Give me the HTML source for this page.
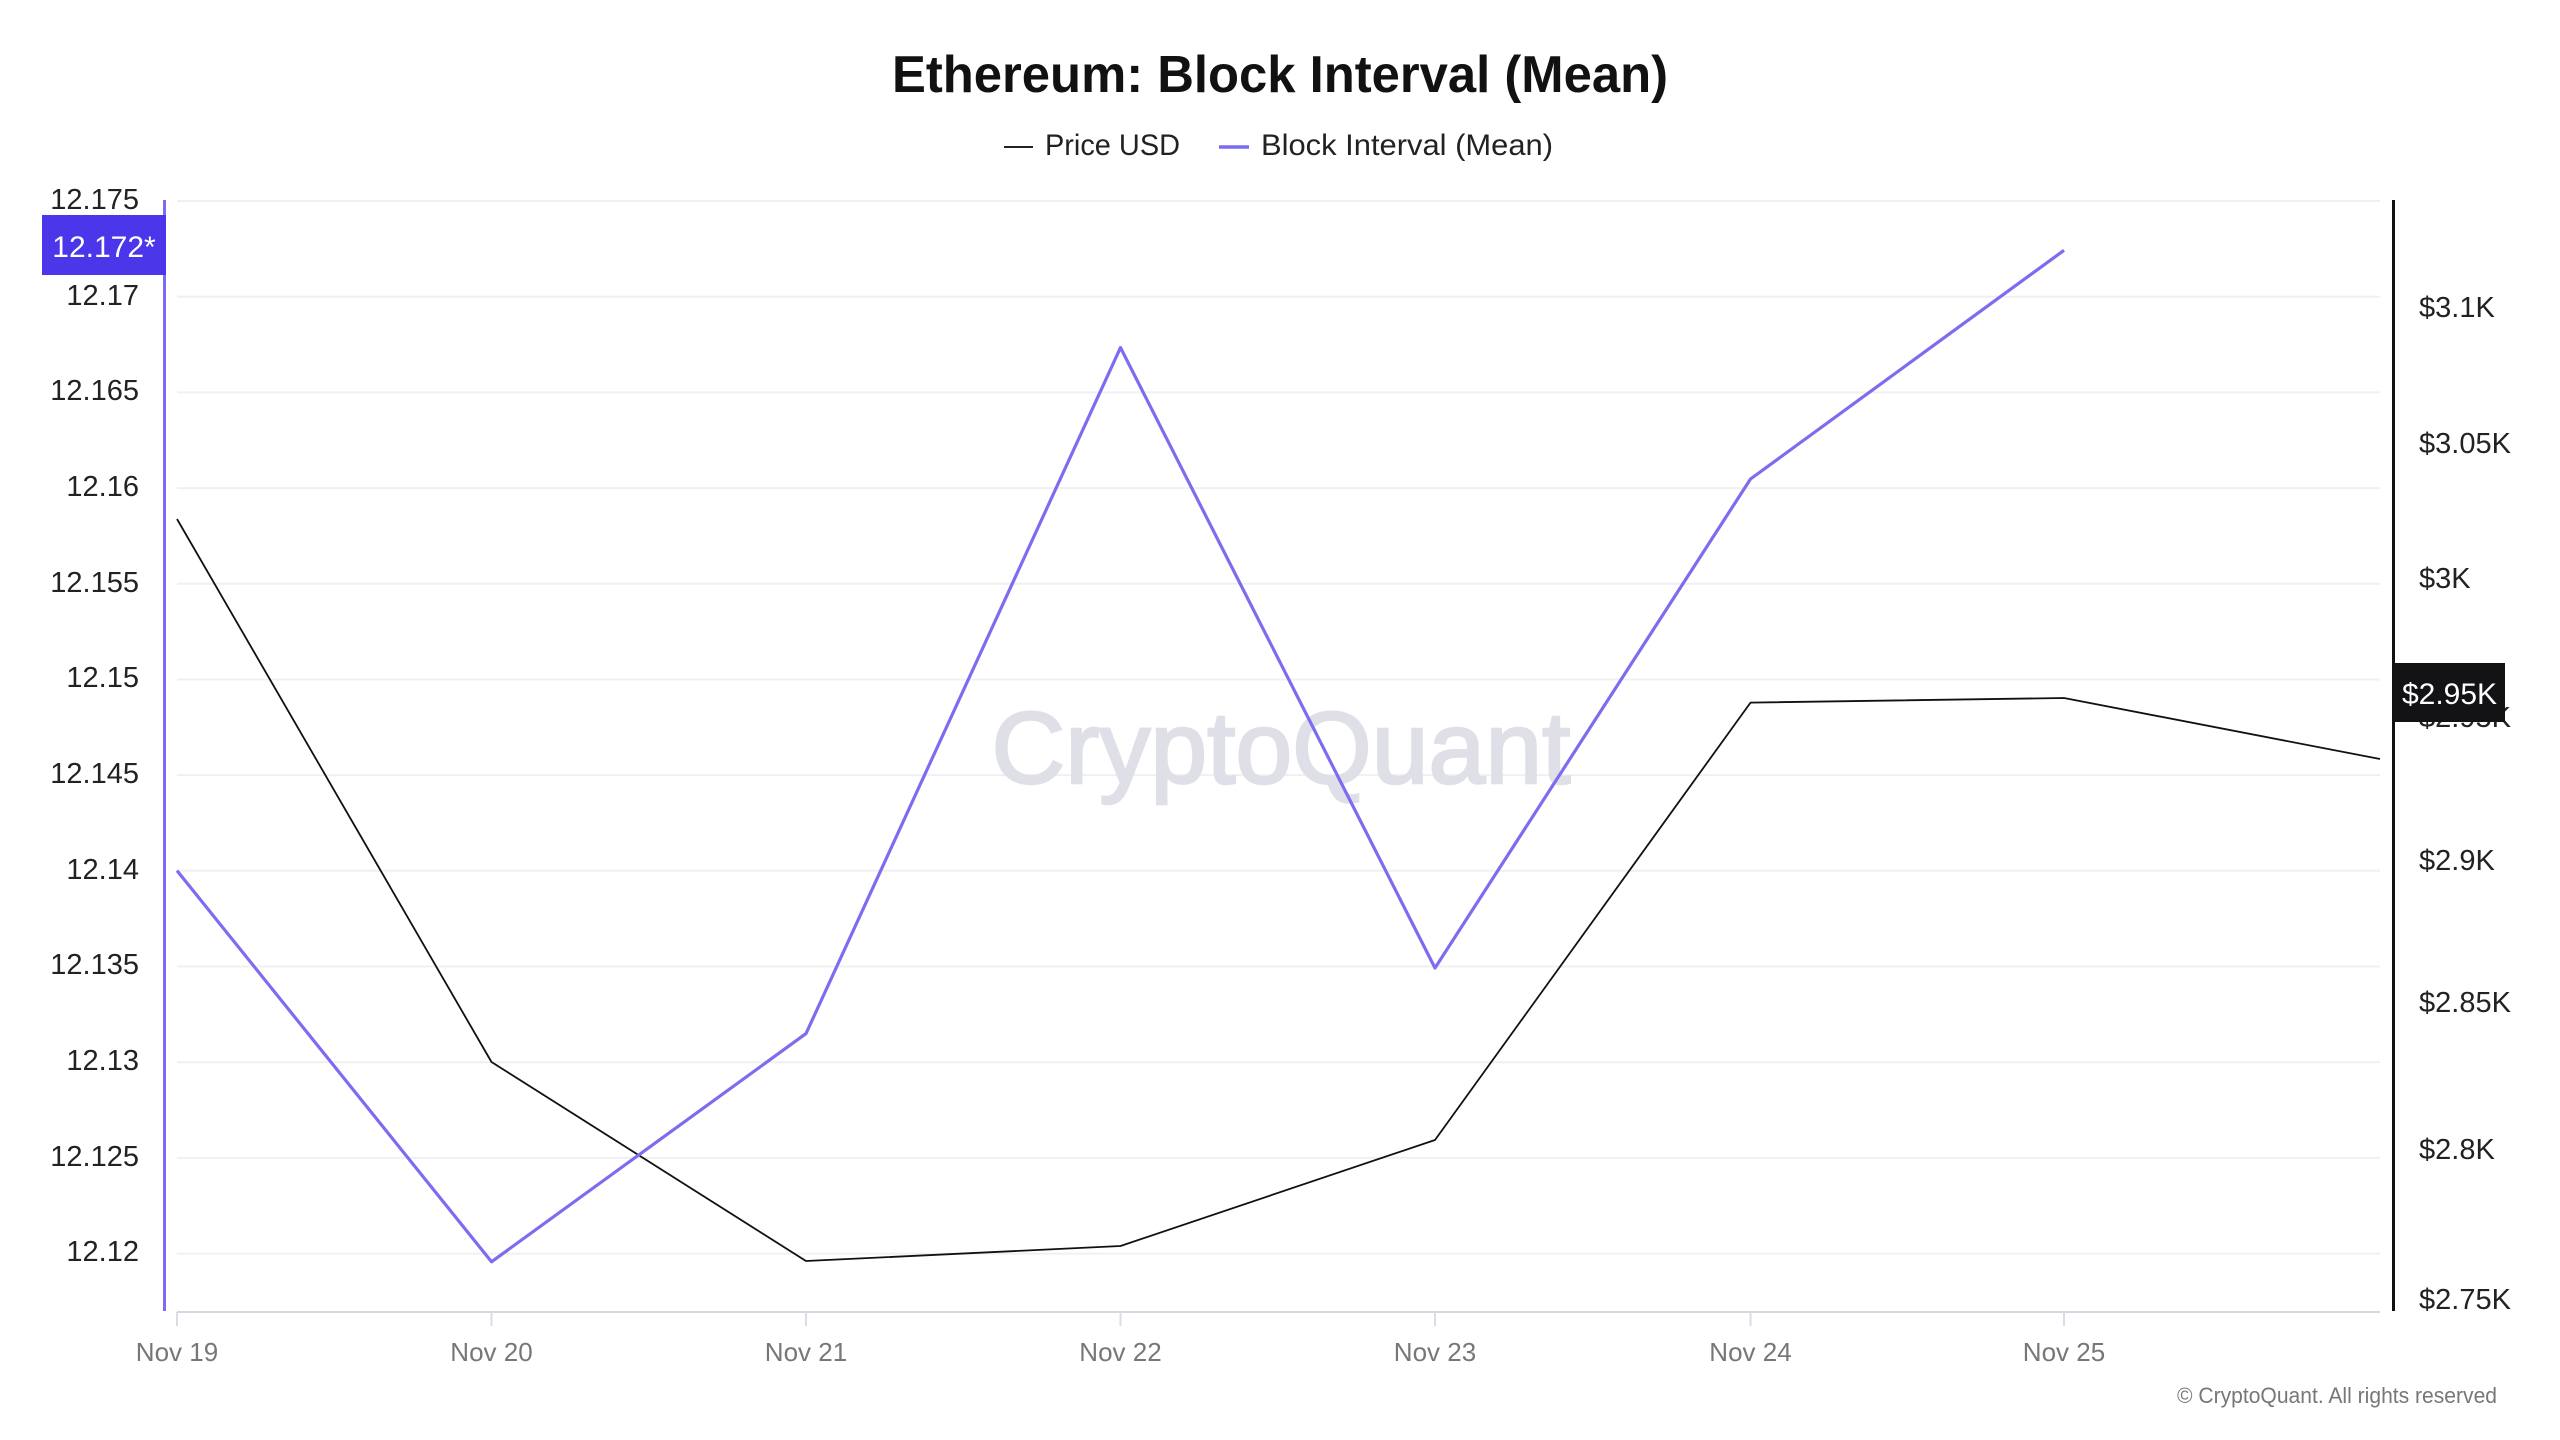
<!DOCTYPE html>
<html><head><meta charset="utf-8"><style>
html,body{margin:0;padding:0;background:#fff;}
svg{display:block;}
text{font-family:"Liberation Sans",sans-serif;}
</style></head><body>
<svg width="2560" height="1440" viewBox="0 0 2560 1440" xmlns="http://www.w3.org/2000/svg">
<rect width="2560" height="1440" fill="#fff"/>
<text x="1280" y="92" text-anchor="middle" font-size="52" font-weight="bold" fill="#111" textLength="776" lengthAdjust="spacingAndGlyphs">Ethereum: Block Interval (Mean)</text>
<line x1="1004" y1="147" x2="1033" y2="147" stroke="#222" stroke-width="2"/>
<text x="1045" y="155" font-size="30" fill="#222" textLength="135" lengthAdjust="spacingAndGlyphs">Price USD</text>
<line x1="1219" y1="147" x2="1249" y2="147" stroke="#7C6CF0" stroke-width="3.5"/>
<text x="1261" y="155" font-size="30" fill="#222" textLength="292" lengthAdjust="spacingAndGlyphs">Block Interval (Mean)</text>
<g stroke="#f0f0f2" stroke-width="2">
<line x1="177" y1="201" x2="2380" y2="201"/>
<line x1="177" y1="296.7" x2="2380" y2="296.7"/>
<line x1="177" y1="392.4" x2="2380" y2="392.4"/>
<line x1="177" y1="488.1" x2="2380" y2="488.1"/>
<line x1="177" y1="583.8" x2="2380" y2="583.8"/>
<line x1="177" y1="679.5" x2="2380" y2="679.5"/>
<line x1="177" y1="775.1" x2="2380" y2="775.1"/>
<line x1="177" y1="870.8" x2="2380" y2="870.8"/>
<line x1="177" y1="966.5" x2="2380" y2="966.5"/>
<line x1="177" y1="1062.2" x2="2380" y2="1062.2"/>
<line x1="177" y1="1157.9" x2="2380" y2="1157.9"/>
<line x1="177" y1="1253.6" x2="2380" y2="1253.6"/>
</g>
<text x="1281" y="783" text-anchor="middle" font-size="102" fill="#dfdfe8" stroke="#dfdfe8" stroke-width="2.5" textLength="579" lengthAdjust="spacingAndGlyphs">CryptoQuant</text>
<line x1="177" y1="1312" x2="2380" y2="1312" stroke="#d6d6e4" stroke-width="2"/>
<g stroke="#dcdce4" stroke-width="2">
<line x1="177" y1="1312" x2="177" y2="1326"/>
<line x1="491.5" y1="1312" x2="491.5" y2="1326"/>
<line x1="806" y1="1312" x2="806" y2="1326"/>
<line x1="1120.5" y1="1312" x2="1120.5" y2="1326"/>
<line x1="1435" y1="1312" x2="1435" y2="1326"/>
<line x1="1750.5" y1="1312" x2="1750.5" y2="1326"/>
<line x1="2064" y1="1312" x2="2064" y2="1326"/>
</g>
<g font-size="26" fill="#777" text-anchor="middle">
<text x="177" y="1361">Nov 19</text>
<text x="491.5" y="1361">Nov 20</text>
<text x="806" y="1361">Nov 21</text>
<text x="1120.5" y="1361">Nov 22</text>
<text x="1435" y="1361">Nov 23</text>
<text x="1750.5" y="1361">Nov 24</text>
<text x="2064" y="1361">Nov 25</text>
</g>
<g font-size="29" fill="#222" text-anchor="end">
<text x="139" y="209">12.175</text>
<text x="139" y="305">12.17</text>
<text x="139" y="400">12.165</text>
<text x="139" y="496">12.16</text>
<text x="139" y="592">12.155</text>
<text x="139" y="687">12.15</text>
<text x="139" y="783">12.145</text>
<text x="139" y="879">12.14</text>
<text x="139" y="974">12.135</text>
<text x="139" y="1070">12.13</text>
<text x="139" y="1166">12.125</text>
<text x="139" y="1261">12.12</text>
</g>
<g font-size="29" fill="#222">
<text x="2419" y="317">$3.1K</text>
<text x="2419" y="453">$3.05K</text>
<text x="2419" y="588">$3K</text>
<text x="2419" y="727">$2.95K</text>
<text x="2419" y="870">$2.9K</text>
<text x="2419" y="1012">$2.85K</text>
<text x="2419" y="1159">$2.8K</text>
<text x="2419" y="1309">$2.75K</text>
</g>
<line x1="164.5" y1="200" x2="164.5" y2="1311" stroke="#7C6CF0" stroke-width="3"/>
<line x1="2393.5" y1="200" x2="2393.5" y2="1311" stroke="#111" stroke-width="3"/>
<polyline fill="none" stroke="#111" stroke-width="1.8" stroke-linejoin="round" points="177,519 491.5,1062 806,1261 1120.5,1246 1435,1140 1750.5,702.6 2064,698 2380,759"/>
<polyline fill="none" stroke="#7C6CF0" stroke-width="3.2" stroke-linejoin="round" points="177,870.6 491.5,1261.8 806,1033.6 1120.5,347.6 1435,968 1750.5,479 2064,250.3"/>
<rect x="42" y="215" width="124" height="60" fill="#4B36EA"/>
<text x="104" y="257" text-anchor="middle" font-size="30" fill="#fff">12.172*</text>
<rect x="2394" y="663" width="111" height="59" fill="#131316"/>
<text x="2449.5" y="704" text-anchor="middle" font-size="30" fill="#fff">$2.95K</text>
<text x="2177" y="1403" font-size="22" fill="#777" textLength="320" lengthAdjust="spacingAndGlyphs">© CryptoQuant. All rights reserved</text>
</svg>
</body></html>
